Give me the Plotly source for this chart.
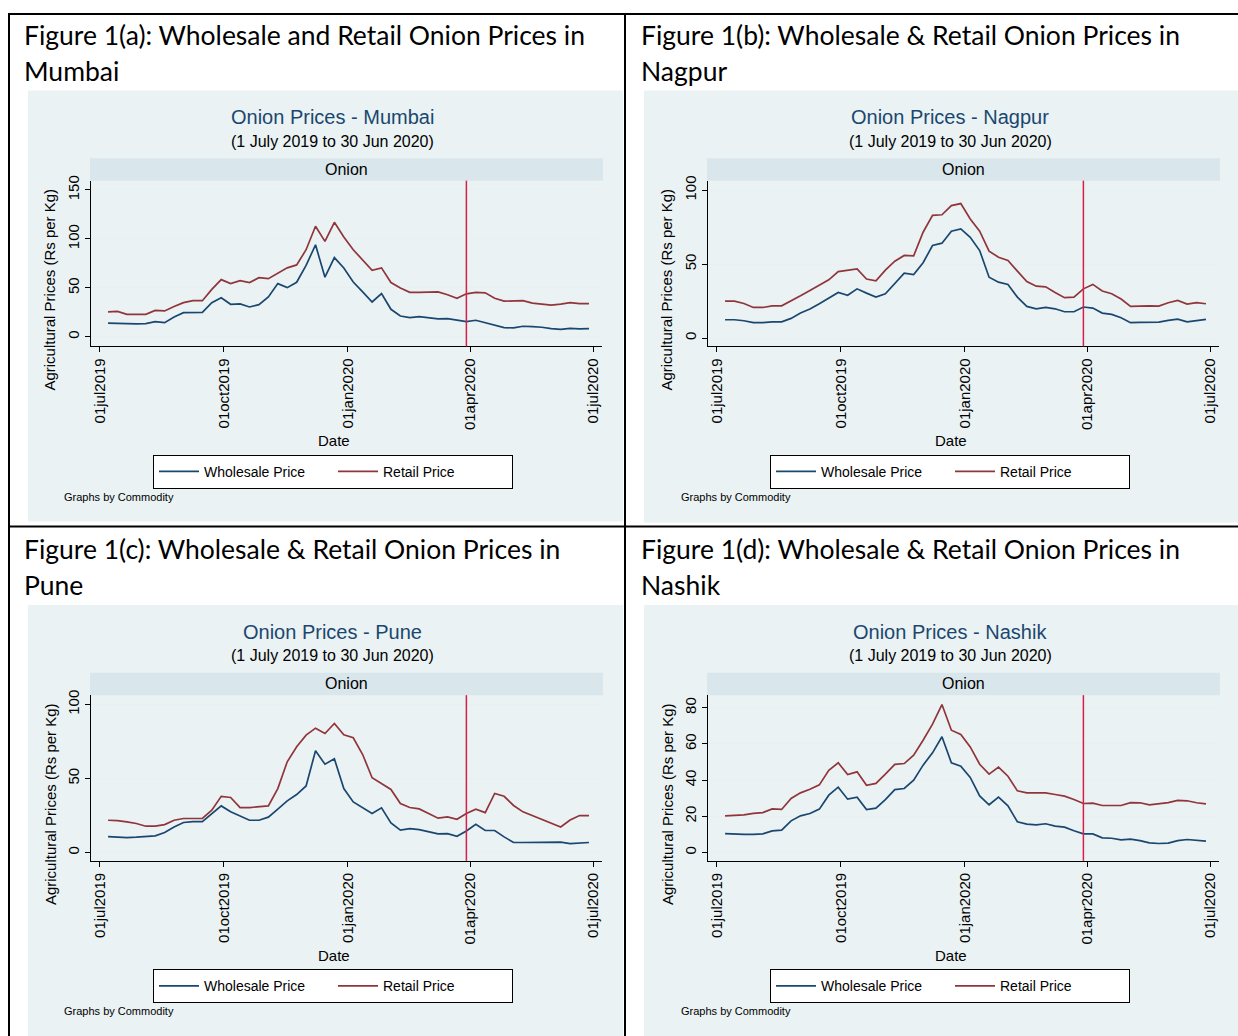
import plotly.graph_objects as go
import pandas as pd

# ---------------- data (weekly) ----------------
dates = pd.date_range("2019-07-07", periods=52, freq="7D")

mumbai_wholesale = [14, 13.6, 13.3, 13.3, 13.6, 15.6, 14.6, 20.4, 24.8, 25.2, 25, 35, 40, 33.3, 33.7, 30.6,
                    33, 40.8, 54.4, 50.3, 55.8, 73, 94, 61, 81, 70.4, 56, 46, 35.7, 44.2, 28.2, 21.4,
                    19.7, 20.7, 19.4, 18.4, 18.7, 17, 15.6, 17, 14.3, 12, 9.5, 9.2, 10.9, 10.5, 9.9, 8.5,
                    7.8, 8.8, 8.2, 8.5]
mumbai_retail = [25.5, 26, 23, 23, 23, 27, 26.5, 31, 35, 37, 37, 48.5, 58.5, 54.5, 57.5, 55.5,
                 60.5, 59.5, 65, 70.5, 73.5, 89, 113, 97.5, 117, 102, 89, 79, 68, 70.5, 55.5, 50,
                 45.5, 45.5, 45.5, 46, 43, 39.5, 44, 45.5, 45, 39.5, 36.5, 37, 37, 34.5, 33.5, 32.5,
                 33.5, 35, 34, 34]

nagpur_wholesale = [12.4, 12.4, 11.7, 10.4, 10.4, 11, 11, 13.3, 16.9, 19.6, 23.2, 26.8, 30.9, 29, 33.3, 30.4,
                    27.7, 30, 37, 43.9, 43, 51, 62.6, 64.2, 72.3, 73.9, 68.2, 59.2, 41.2, 37.8, 36.3, 27.7,
                    21.4, 19.8, 20.7, 19.8, 17.8, 17.8, 21, 20.3, 16.9, 16, 13.7, 10.4, 10.6, 10.8, 10.8, 12,
                    12.8, 11, 12, 12.6]
nagpur_retail = [25, 25, 23.4, 20.7, 20.7, 21.8, 21.8, 25, 28.6, 32.2, 35.6, 39.4, 45, 46, 46.8, 39.9,
                 38.7, 46, 52, 55.9, 55.6, 71.6, 83, 83.4, 89.6, 91, 80.6, 72.3, 58.8, 54.7, 52.5, 45.3,
                 38.3, 35.1, 34.7, 30.9, 27.3, 27.7, 33.3, 36.3, 31.8, 30, 26.4, 21.4, 21.8, 21.8, 21.6, 23.9,
                 25.5, 23, 24, 23.2]

pune_wholesale = [10.8, 10.4, 10.1, 10.4, 10.8, 11.3, 13.5, 17.3, 20.3, 20.9, 20.9, 26.4, 31.5, 27.5, 24.5, 21.8,
                  21.8, 23.9, 29.3, 34.9, 39.2, 45, 68.7, 59.7, 63.3, 43.2, 34.2, 30.4, 26.4, 30.2, 20, 15.1,
                  16.2, 15.5, 14.2, 12.6, 12.8, 11, 14.6, 19.1, 14.9, 14.9, 10.6, 6.8, 6.8, 6.8, 6.8, 6.8,
                  7, 6.1, 6.5, 6.8]
pune_retail = [21.8, 21.6, 20.7, 19.6, 17.8, 17.8, 18.9, 21.8, 23, 23, 23, 28.6, 38, 37.2, 30.4, 30.4,
               31, 31.5, 43.2, 61.3, 71.4, 79.3, 84, 80.4, 87.2, 79.5, 77.5, 66.2, 50.5, 46.4, 42.6, 33.1,
               30.4, 29.5, 26.1, 23.2, 24.1, 22.5, 26.4, 29.3, 27, 39.9, 38, 31.8, 27.5, 25, 22.5, 20,
               17.3, 22, 25, 25]

nashik_wholesale = [10.5, 10.1, 10, 10, 10.3, 12, 12.4, 17.5, 20.3, 21.6, 24, 31.7, 36.1, 29.5, 30.6, 23.8,
                    24.5, 29.3, 34.8, 35.4, 40, 48.3, 55.1, 64, 49.6, 47.7, 41.5, 31.3, 26.4, 30.6, 25.8, 17,
                    15.7, 15.3, 15.9, 14.6, 14, 12, 10.3, 10.3, 8.1, 7.9, 7, 7.4, 6.6, 5.3, 5, 5.2,
                    6.6, 7.2, 6.6, 6.3]
nashik_retail = [20.3, 20.5, 20.8, 21.6, 22.1, 24.1, 23.8, 29.9, 33, 35, 37.4, 45.5, 49.6, 43.1, 44.6, 37.2,
                 38.2, 43.3, 48.7, 49.2, 53.8, 62.1, 71, 81.8, 67.6, 65.3, 58.4, 48.8, 43.3, 47.2, 42.2, 34.1,
                 33, 33, 33, 32.1, 31.2, 29.3, 27.1, 27.3, 26, 26, 26, 27.6, 27.5, 26.4, 26.9, 27.6,
                 28.8, 28.6, 27.5, 26.9]

cities = ["Mumbai", "Nagpur", "Pune", "Nashik"]
fig_titles = [("Figure 1(a): Wholesale and Retail Onion Prices in", "Mumbai"),
              ("Figure 1(b): Wholesale & Retail Onion Prices in", "Nagpur"),
              ("Figure 1(c): Wholesale & Retail Onion Prices in", "Pune"),
              ("Figure 1(d): Wholesale & Retail Onion Prices in", "Nashik")]
wholesale = [mumbai_wholesale, nagpur_wholesale, pune_wholesale, nashik_wholesale]
retail = [mumbai_retail, nagpur_retail, pune_retail, nashik_retail]
y_ranges = [[-9.6, 159.5], [-5.6, 106.5], [-5.6, 106.3], [-4.6, 87]]
y_ticks = [[0, 50, 100, 150], [0, 50, 100], [0, 50, 100], [0, 20, 40, 60, 80]]
x_tickvals = ["2019-07-01", "2019-10-01", "2020-01-01", "2020-04-01", "2020-07-01"]
x_ticktext = ["01jul2019", "01oct2019", "01jan2020", "01apr2020", "01jul2020"]
x_range = ["2019-06-24 08:00", "2020-07-07 16:00"]
lockdown_date = "2020-03-29"

# ---------------- layout helpers ----------------
W, H = 1238, 1036
def px(x):
    return x / W
def py(y):
    return 1 - y / H

offsets = [(0, 0), (617, 0), (0, 517), (617, 517)]
bg_boxes = [(28, 86, 623, 519), (644, 86, 1238, 520), (28, 603, 623, 1036), (644, 603, 1238, 1036)]

NAVY = "#1A476F"
MAROON = "#90353B"
VRED = "#D6204A"
STATA_FONT = "Liberation Sans, Arial, sans-serif"
DOC_FONT = "Lato, Carlito, sans-serif"

fig = go.Figure()
shapes = []
annotations = []

for k in range(4):
    dx, dy = offsets[k]
    n = "" if k == 0 else str(k + 1)
    xa, ya = "x" + n, "y" + n
    leg = "legend" if k == 0 else "legend" + str(k + 1)

    fig.add_trace(go.Scatter(x=dates, y=wholesale[k], mode="lines", name="Wholesale Price",
                             line=dict(color=NAVY, width=1.7), xaxis=xa, yaxis=ya, legend=leg))
    fig.add_trace(go.Scatter(x=dates, y=retail[k], mode="lines", name="Retail Price",
                             line=dict(color=MAROON, width=1.7), xaxis=xa, yaxis=ya, legend=leg))

    x0, x1 = 91 + dx, 602 + dx
    yt, yb = 176.5 + dy, 343 + dy
    fig.update_layout(**{
        "xaxis" + n: dict(domain=[px(x0), px(x1)], anchor=ya, type="date", range=x_range,
                          tickmode="array", tickvals=x_tickvals, ticktext=x_ticktext, tickangle=-90,
                          ticks="outside", ticklen=5, tickcolor="#000", showline=True, linecolor="#000",
                          linewidth=1, showgrid=False, zeroline=False,
                          tickfont=dict(family=STATA_FONT, size=15, color="#000")),
        "yaxis" + n: dict(domain=[py(yb), py(yt)], anchor=xa, range=y_ranges[k],
                          tickmode="array", tickvals=y_ticks[k], tickangle=-90,
                          ticks="outside", ticklen=5, tickcolor="#000", showline=True, linecolor="#000",
                          linewidth=1, showgrid=True, gridcolor="#E8F0F2", gridwidth=1, zeroline=False,
                          tickfont=dict(family=STATA_FONT, size=15, color="#000")),
        leg: dict(orientation="h", x=px(333 + dx), xanchor="center", y=py(452 + dy), yanchor="top",
                  bgcolor="white", bordercolor="#000", borderwidth=1,
                  font=dict(family=STATA_FONT, size=14, color="#000"),
                  entrywidth=124, entrywidthmode="pixels", itemwidth=40,
                  tracegroupgap=0),
    })

    # grey graph background
    bx0, by0, bx1, by1 = bg_boxes[k]
    shapes.append(dict(type="rect", xref="paper", yref="paper", x0=px(bx0), x1=px(bx1),
                       y0=py(by1), y1=py(by0), fillcolor="#EAF2F3", line=dict(width=0), layer="below"))
    # strip "Onion"
    shapes.append(dict(type="rect", xref="paper", yref="paper", x0=px(90 + dx), x1=px(603 + dx),
                       y0=py(176.5 + dy), y1=py(154 + dy), fillcolor="#D9E6EB", line=dict(width=0),
                       layer="below"))
    # lockdown line
    shapes.append(dict(type="line", xref=xa, yref=ya + " domain", x0=lockdown_date, x1=lockdown_date,
                       y0=0, y1=1, line=dict(color=VRED, width=1.5)))

    # document figure titles
    t1, t2 = fig_titles[k]
    annotations.append(dict(text=t1, x=px(22 + dx), y=py(30 + dy), xref="paper", yref="paper",
                            xanchor="left", yanchor="middle", showarrow=False,
                            font=dict(family=DOC_FONT, size=26.5, color="#000")))
    annotations.append(dict(text=t2, x=px(22 + dx), y=py(66 + dy), xref="paper", yref="paper",
                            xanchor="left", yanchor="middle", showarrow=False,
                            font=dict(family=DOC_FONT, size=26.5, color="#000")))
    # Stata titles
    annotations.append(dict(text="Onion Prices - " + cities[k], x=px(333 + dx), y=py(113 + dy),
                            xref="paper", yref="paper", xanchor="center", yanchor="middle",
                            showarrow=False, font=dict(family=STATA_FONT, size=20, color=NAVY)))
    annotations.append(dict(text="(1 July 2019 to 30 Jun 2020)", x=px(333 + dx), y=py(137 + dy),
                            xref="paper", yref="paper", xanchor="center", yanchor="middle",
                            showarrow=False, font=dict(family=STATA_FONT, size=16, color="#000")))
    annotations.append(dict(text="Onion", x=px(346 + dx), y=py(165 + dy),
                            xref="paper", yref="paper", xanchor="center", yanchor="middle",
                            showarrow=False, font=dict(family=STATA_FONT, size=16, color="#000")))
    annotations.append(dict(text="Date", x=px(334 + dx), y=py(438 + dy),
                            xref="paper", yref="paper", xanchor="center", yanchor="middle",
                            showarrow=False, font=dict(family=STATA_FONT, size=15, color="#000")))
    annotations.append(dict(text="Agricultural Prices (Rs per Kg)", x=px(50 + dx), y=py(286 + dy),
                            xref="paper", yref="paper", xanchor="center", yanchor="middle",
                            textangle=-90, showarrow=False,
                            font=dict(family=STATA_FONT, size=15, color="#000")))
    annotations.append(dict(text="Graphs by Commodity", x=px(62 + dx), y=py(494 + dy),
                            xref="paper", yref="paper", xanchor="left", yanchor="middle",
                            showarrow=False, font=dict(family=STATA_FONT, size=11, color="#000")))

# cell borders
border = dict(color="#000", width=2)
for (a, b, c, d) in [(8, 9, 1238, 9), (9, 9, 9, 1036), (625, 9, 625, 1036), (8, 524, 1238, 524)]:
    shapes.append(dict(type="line", xref="paper", yref="paper", x0=px(a), y0=py(b), x1=px(c), y1=py(d),
                       line=border, layer="above"))

fig.update_layout(width=W, height=H, margin=dict(l=0, r=0, t=0, b=0),
                  paper_bgcolor="white", plot_bgcolor="white", showlegend=True,
                  shapes=shapes, annotations=annotations)

# remove the default page margin so the figure sits at the window's top-left corner
page_fix = ("document.body.style.margin='0';document.body.style.padding='0';"
            "document.documentElement.style.overflow='hidden';")
fig.write_html("out.html", post_script=page_fix, config={"displayModeBar": False})
